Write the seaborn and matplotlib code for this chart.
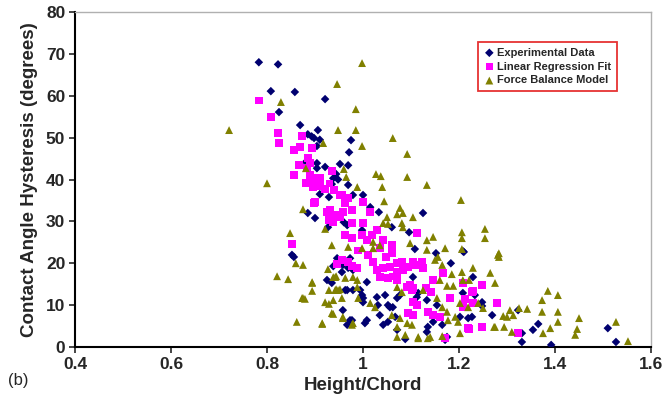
import numpy as np
import pandas as pd
import matplotlib
matplotlib.use("Agg")
import matplotlib.pyplot as plt
import seaborn as sns

# Experimental data (Height/Chord, hysteresis in degrees)
exp_x = [0.783, 0.823, 0.808, 0.858, 0.921, 0.825, 0.869, 0.885, 0.893, 0.898,
         0.906, 0.910, 0.904, 0.881, 0.904, 0.904, 0.921, 0.975, 0.971, 0.952,
         0.969, 0.944, 0.938, 0.969, 0.910, 0.935, 0.948, 0.979, 1.000, 1.015,
         1.033, 0.885, 0.900, 0.929, 0.927, 0.852, 0.856, 0.925, 0.938, 0.960,
         0.967, 1.060, 1.096, 0.998, 1.108, 0.946, 0.958, 0.973, 0.979, 0.963,
         0.994, 0.998, 1.008, 1.000, 1.000, 1.029, 1.046, 1.052, 1.031, 1.056,
         1.077, 1.071, 1.062, 0.958, 0.973, 0.967, 1.008, 1.004, 1.035, 1.042,
         1.115, 1.125, 1.152, 1.183, 1.208, 1.229, 1.104, 1.208, 1.233, 1.112,
         1.133, 1.154, 1.146, 1.165, 1.135, 1.202, 1.219, 1.227, 1.269, 1.323,
         1.331, 1.331, 1.354, 1.365, 1.392, 1.510, 1.527, 0.935, 0.956, 0.969,
         0.967, 0.979, 0.977, 1.052, 1.071, 1.088, 1.067, 1.171, 1.175, 1.133,
         1.210, 1.248, 1.248]
exp_y = [68.0, 67.5, 61.1, 60.9, 59.2, 56.1, 53.0, 50.8, 50.3, 49.9,
         51.8, 49.5, 48.0, 44.2, 43.9, 42.7, 43.0, 49.4, 46.5, 43.7,
         43.4, 41.3, 40.3, 38.7, 36.5, 38.9, 40.0, 36.3, 36.3, 33.4,
         32.2, 32.0, 30.8, 35.8, 28.6, 22.0, 21.5, 16.0, 19.3, 29.8,
         29.1, 28.6, 27.4, 27.9, 23.4, 21.2, 19.6, 21.2, 18.4, 13.6,
         13.6, 12.4, 15.5, 11.7, 10.7, 11.9, 12.4, 10.0, 10.0, 9.5,
         12.4, 11.7, 9.5, 8.8, 6.4, 5.3, 6.4, 5.7, 7.6, 5.3,
         12.9, 32.0, 22.4, 20.0, 22.9, 16.7, 16.7, 12.9, 12.4, 11.9,
         11.2, 10.0, 6.0, 5.3, 4.8, 7.2, 6.9, 7.2, 7.6, 8.8,
         3.3, 1.2, 4.1, 5.5, 0.5, 4.5, 1.2, 15.3, 17.9, 18.9,
         13.6, 13.6, 6.4, 6.0, 4.1, 1.9, 7.2, 1.7, 2.4, 3.6,
         22.7, 10.7, 9.8]

# Linear regression fit
fit_x = [0.783, 0.808, 0.823, 0.825, 0.873, 0.856, 0.869, 0.894, 0.885, 0.890,
         0.883, 0.867, 0.856, 0.890, 0.904, 0.894, 0.910, 0.881, 0.896, 0.910,
         0.921, 0.935, 0.930, 0.940, 0.952, 0.969, 0.977, 0.963, 1.000, 1.015,
         0.900, 0.925, 0.931, 0.942, 0.952, 0.958, 0.898, 0.929, 0.938, 0.852,
         0.946, 0.956, 0.977, 1.000, 1.029, 1.112, 0.963, 0.977, 0.998, 1.008,
         1.019, 1.035, 1.060, 1.060, 1.042, 0.956, 0.969, 0.977, 0.988, 1.021,
         1.029, 1.042, 1.056, 1.071, 1.081, 1.071, 1.083, 1.094, 1.104, 1.035,
         1.052, 1.071, 1.092, 1.102, 1.098, 1.094, 1.104, 1.104, 1.112, 1.123,
         1.125, 1.108, 1.146, 1.167, 1.208, 1.248, 1.227, 1.104, 1.131, 1.142,
         1.181, 1.279, 1.135, 1.146, 1.160, 1.219, 1.248, 1.171, 1.323, 1.229,
         1.212, 1.208, 1.229, 1.221, 1.010, 0.990, 1.048, 1.063]
fit_y = [58.9, 54.9, 51.1, 48.7, 50.4, 47.0, 47.7, 47.5, 45.1, 43.9,
         42.7, 43.4, 41.1, 41.1, 40.3, 39.1, 40.3, 39.1, 38.2, 38.4,
         37.7, 42.0, 39.0, 37.5, 36.3, 35.6, 32.7, 34.4, 34.6, 32.2,
         34.6, 32.2, 32.7, 31.5, 31.0, 32.2, 34.4, 30.3, 29.8, 24.6,
         19.8, 36.3, 29.6, 29.6, 27.9, 27.2, 26.7, 26.0, 26.7, 25.5,
         26.7, 23.6, 24.3, 22.4, 25.5, 20.8, 20.3, 19.3, 18.9, 20.3,
         18.4, 18.9, 19.1, 20.0, 20.3, 17.9, 18.4, 19.1, 20.3, 16.7,
         16.5, 16.0, 14.3, 13.6, 14.8, 8.1, 7.6, 10.7, 10.0, 20.3,
         18.9, 19.6, 16.0, 17.7, 15.3, 14.8, 13.1, 14.1, 14.1, 13.1,
         11.7, 10.5, 8.4, 7.6, 7.2, 4.5, 4.8, 2.1, 3.3, 13.4,
         11.5, 9.5, 10.5, 4.3, 22.0, 23.0, 21.5, 16.8]

# Force balance model
fb_x = [0.721, 0.829, 0.917, 0.881, 0.800, 0.998, 0.946, 0.985, 0.948, 0.985,
        1.062, 0.998, 1.092, 0.960, 0.965, 1.027, 1.037, 1.092, 0.988, 1.040,
        1.133, 1.044, 1.077, 1.083, 1.071, 1.104, 0.875, 0.921, 0.848, 0.935,
        0.860, 0.875, 0.821, 0.844, 0.927, 0.938, 0.944, 0.894, 0.894, 0.929,
        0.944, 0.952, 0.873, 0.879, 0.921, 0.929, 0.938, 0.862, 0.915, 1.050,
        1.042, 1.052, 1.081, 1.083, 1.021, 1.035, 1.021, 0.998, 0.969, 1.098,
        0.942, 0.963, 0.942, 0.948, 0.956, 0.938, 0.979, 0.988, 0.988, 0.990,
        1.015, 1.025, 1.071, 1.081, 1.060, 1.077, 1.071, 1.092, 1.102, 0.979,
        0.958, 1.088, 1.204, 1.206, 1.206, 1.254, 1.254, 1.281, 1.133, 1.146,
        1.133, 1.171, 1.156, 1.150, 1.165, 1.229, 1.206, 1.265, 1.275, 1.160,
        1.175, 1.188, 1.208, 1.221, 1.125, 1.154, 1.165, 1.175, 1.202, 1.219,
        1.240, 1.250, 1.177, 1.198, 1.192, 1.275, 1.115, 1.135, 1.140, 1.165,
        1.202, 1.283, 1.283, 1.292, 1.300, 1.306, 1.313, 1.325, 1.342, 1.273,
        1.294, 1.310, 1.375, 1.390, 1.373, 1.385, 1.406, 1.373, 1.406, 1.406,
        1.450, 1.446, 1.442, 1.527, 1.552, 0.894, 0.875, 0.915, 0.935, 0.958,
        0.977, 1.071, 1.115, 1.206, 1.185]
fb_y = [51.8, 58.5, 48.7, 42.7, 39.1, 67.8, 62.8, 56.8, 51.8, 51.8,
        49.9, 48.0, 46.1, 42.5, 40.6, 41.3, 40.8, 40.6, 38.2, 38.2,
        38.7, 34.8, 33.2, 32.0, 31.7, 31.0, 32.9, 28.2, 27.2, 24.3,
        20.0, 19.6, 16.9, 16.2, 18.6, 16.7, 16.9, 15.3, 13.4, 13.6,
        13.8, 13.8, 11.7, 11.5, 10.7, 10.3, 7.9, 6.0, 5.5, 31.0,
        29.6, 29.4, 29.6, 28.6, 25.1, 24.3, 23.6, 23.6, 23.9, 24.8,
        16.7, 16.5, 13.6, 13.6, 11.7, 11.2, 16.7, 16.0, 14.3, 11.7,
        10.5, 9.5, 14.3, 13.1, 7.6, 6.9, 4.8, 5.7, 5.3, 5.7,
        7.2, 2.9, 35.1, 27.4, 26.0, 28.2, 26.0, 22.0, 25.5, 26.3,
        23.2, 23.6, 21.5, 20.8, 19.6, 18.9, 17.9, 17.7, 15.3, 16.0,
        14.6, 14.6, 16.0, 16.0, 13.6, 11.7, 9.5, 8.4, 10.5, 9.5,
        10.5, 9.3, 6.4, 6.0, 7.2, 4.8, 2.1, 2.1, 2.4, 2.6,
        3.3, 22.4, 21.5, 7.4, 7.2, 8.8, 7.6, 9.3, 9.1, 4.8,
        4.8, 3.6, 3.3, 4.5, 11.2, 13.4, 12.4, 8.4, 8.4, 6.0,
        6.9, 4.3, 2.9, 6.0, 1.4, 15.5, 11.7, 5.7, 8.1, 6.9,
        5.3, 2.4, 2.4, 23.4, 17.4]

x_ticks = [0.4, 0.6, 0.8, 1.0, 1.2, 1.4, 1.6]
x_tick_labels = ["0.4", "0.6", "0.8", "1", "1.2", "1.4", "1.6"]
y_ticks = [0, 10, 20, 30, 40, 50, 60, 70, 80]

sns.set_style("white")
plt.rcParams['font.family'] = ['Liberation Sans', 'DejaVu Sans']

fig = plt.figure(figsize=(6.66, 4.07), dpi=100)
ax = fig.add_axes([0.1126, 0.1474, 0.8649, 0.8231])

sns.scatterplot(x=exp_x, y=exp_y, ax=ax, marker='D', s=19, color='#000070',
                edgecolor='none', label='Experimental Data', zorder=3)
sns.scatterplot(x=fit_x, y=fit_y, ax=ax, marker='s', s=30, color='#ff00ff',
                edgecolor='none', label='Linear Regression Fit', zorder=4)
sns.scatterplot(x=fb_x, y=fb_y, ax=ax, marker='^', s=32, color='#808000',
                edgecolor='none', label='Force Balance Model', zorder=5)

ax.set_xlim(0.4, 1.6)
ax.set_ylim(0, 80)
ax.set_xticks(x_ticks)
ax.set_xticklabels(x_tick_labels)
ax.set_yticks(y_ticks)
ax.tick_params(axis='both', direction='out', length=4, width=1.2,
               labelsize=12.5, pad=3, bottom=True, left=True)
for lab in ax.get_xticklabels() + ax.get_yticklabels():
    lab.set_fontweight('bold')

for side in ['left', 'bottom']:
    ax.spines[side].set_color('black')
    ax.spines[side].set_linewidth(1.5)
for side in ['top', 'right']:
    ax.spines[side].set_color('#b0b0b0')
    ax.spines[side].set_linewidth(1.0)

ax.set_xlabel('Height/Chord', fontsize=13.5, fontweight='bold', labelpad=4)
ax.set_ylabel('Contact Angle Hysteresis (degrees)', fontsize=13.5,
              fontweight='bold', labelpad=6)

leg = ax.legend(loc='upper left', bbox_to_anchor=(0.70, 0.91), frameon=True,
                fancybox=False, borderpad=0.5, labelspacing=0.35,
                handletextpad=0.2, handlelength=1.0, borderaxespad=0,
                prop={'weight': 'bold', 'size': 8})
leg.get_frame().set_edgecolor('#e00000')
leg.get_frame().set_linewidth(1.3)

fig.text(0.012, 0.055, '(b)', fontsize=12)

fig.savefig('out.png', dpi=100)
